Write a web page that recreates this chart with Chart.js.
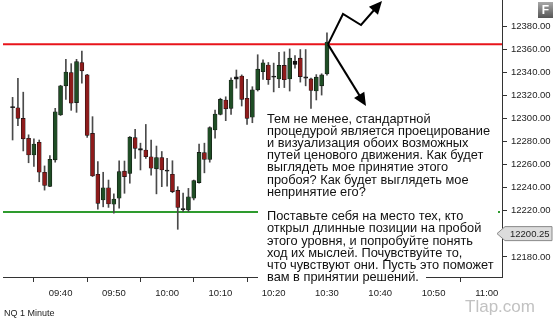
<!DOCTYPE html>
<html><head><meta charset="utf-8">
<script src="https://cdn.jsdelivr.net/npm/chart.js@4"></script>
<style>html,body{margin:0;padding:0;background:#fff;overflow:hidden}canvas{display:block}</style>
</head><body>
<canvas id="c" width="557" height="322"></canvas>
<script>
// ---- data (NQ 1 Minute) ----
const times = ["09:31","09:32","09:33","09:34","09:35","09:36","09:37","09:38","09:39","09:40",
"09:41","09:42","09:43","09:44","09:45","09:46","09:47","09:48","09:49","09:50",
"09:51","09:52","09:53","09:54","09:55","09:56","09:57","09:58","09:59","10:00",
"10:01","10:02","10:03","10:04","10:05","10:06","10:07","10:08","10:09","10:10",
"10:11","10:12","10:13","10:14","10:15","10:16","10:17","10:18","10:19","10:20",
"10:21","10:22","10:23","10:24","10:25","10:26","10:27","10:28","10:29","10:30"];
const open = [12310.5,12309.5,12300.25,12283,12268.5,12279.5,12253.5,12241.25,12264.25,12303.25,
12328.5,12340,12314,12348.75,12338,12287.25,12251.75,12229.5,12240,12225.75,
12231,12254.5,12252.5,12283.5,12274,12272.75,12267,12256.5,12266.25,12255.5,
12251.75,12237.75,12222,12220.75,12231,12244.5,12270.5,12264.75,12290.25,12303.75,
12316.25,12309,12336.25,12337,12317.75,12301.25,12325,12340.75,12346.5,12337,
12334.5,12346.25,12334.5,12350,12352.5,12336.25,12334.5,12324,12328.5,12338.75];
const high = [12318.5,12335,12323,12286,12282.5,12281.5,12259,12268,12309,12329,
12351.5,12347.75,12351.5,12358.75,12338.5,12301.75,12262.75,12253.5,12246.75,12234.75,
12263.5,12263.25,12284.5,12290.75,12278.75,12295,12281.5,12276.25,12271.5,12265.5,
12263.5,12241,12235.5,12239.5,12246.75,12278,12278.75,12293,12307.5,12317.75,
12319,12335.5,12342.25,12338,12334.25,12327.75,12355.5,12351,12348.75,12348.25,
12357.5,12358,12360.5,12354.75,12360,12360,12335.25,12338.25,12339,12374.5];
const low = [12281.5,12294,12272,12261.75,12258.5,12245.25,12238,12241,12262.25,12302.75,
12316.75,12307.25,12305.5,12330.75,12283.75,12249.75,12221.5,12223.5,12223,12218,
12222.25,12235.25,12244,12265.5,12255.5,12265.5,12251,12234.75,12241,12241.5,
12235.75,12204,12219.25,12219.25,12229.5,12244,12253,12262.25,12283,12303.25,
12298.25,12303.75,12326.5,12311,12295,12296.5,12324,12334,12329.75,12323.25,
12327,12327,12324,12343.75,12331.75,12328.5,12309,12316.25,12320.5,12337.75];
const close = [12309.5,12300.25,12282.5,12268.5,12278,12253.5,12242,12264.75,12306,12328.5,
12340.5,12313.5,12349.5,12341.5,12285.5,12250.25,12226.5,12240,12226,12230.25,
12254,12249.75,12284,12274.25,12272.75,12267,12257,12266.25,12255.5,12254.5,
12236.75,12223,12221,12232.25,12246.25,12270.75,12264.75,12292.25,12304,12316.75,
12308.5,12333.5,12334.25,12316.75,12300.25,12325,12343,12348.5,12333.75,12336,
12346.25,12333.75,12352.5,12347,12336.5,12335.25,12324.5,12336,12338,12366.5];
const resistance = 12364.5;
const support = 12219;
const supportEnd = "10:30";
const lastPrice = 12200.25;
const xTickLabels = ["09:40","09:50","10:00","10:10","10:20","10:30","10:40","10:50","11:00"];
const yTickValues = [12180,12200,12220,12240,12260,12280,12300,12320,12340,12360,12380];
const noteLines = ["Тем не менее, стандартной","процедурой является проецирование","и визуализация обоих возможных","путей ценового движения. Как будет","выглядеть мое принятие этого","пробоя? Как будет выглядеть мое","непринятие его?","","Поставьте себя на место тех, кто","открыл длинные позиции на пробой","этого уровня, и попробуйте понять","ход их мыслей. Почувствуйте то,","что чувствуют они. Пусть это поможет","вам в принятии решений."];

// ---- helpers ----
const toMin = t => { const [h,m] = t.split(':').map(Number); return (h*60+m) - (9*60+30); };
const fmtMin = v => { const t = 9*60+30+v; const h = Math.floor(t/60), m = t%60; return String(h).padStart(2,'0')+':'+String(m).padStart(2,'0'); };
const xMin = -0.8, xMax = 92.85;
const RED='#8e1b1b', GREEN='#1f4d25', DOJI='#111';
const bodyColor = i => Math.abs(close[i]-open[i]) < 3.5 ? DOJI : (close[i] > open[i] ? GREEN : RED);
const FONT = '"Liberation Sans", Arial, sans-serif';

const overlay = {
  id: 'overlay',
  afterDraw(chart) {
    const {ctx, scales:{x, y}} = chart;
    ctx.save();
    const gy = y.getPixelForValue(support);
    ctx.strokeStyle = '#2e9b2e'; ctx.lineWidth = 2;
    ctx.beginPath(); ctx.moveTo(495, gy); ctx.lineTo(500, gy); ctx.stroke();
    ctx.fillStyle = '#fff';
    ctx.fillRect(258, 109, 240, 162);
    ctx.fillRect(258, 271, 168, 13);
    ctx.fillStyle = '#111'; ctx.font = '12.8px ' + FONT; ctx.textBaseline = 'alphabetic'; ctx.textAlign = 'left';
    noteLines.forEach((l, i) => { if (l) ctx.fillText(l, 267, 122.5 + i * 12.2); });
    const sx = x.getPixelForValue(toMin(times[times.length-1])) + 1;
    const sy = y.getPixelForValue(resistance);
    ctx.strokeStyle = '#000'; ctx.fillStyle = '#000'; ctx.lineWidth = 2; ctx.lineJoin = 'miter';
    const head = (fx, fy, tx, ty) => {
      const a = Math.atan2(ty - fy, tx - fx), L = 13, W = 6;
      const bx = tx - L*Math.cos(a), by = ty - L*Math.sin(a);
      ctx.beginPath(); ctx.moveTo(tx, ty);
      ctx.lineTo(bx + W*Math.sin(a), by - W*Math.cos(a));
      ctx.lineTo(bx - W*Math.sin(a), by + W*Math.cos(a));
      ctx.closePath(); ctx.fill();
      return [bx + 2*Math.cos(a), by + 2*Math.sin(a)];
    };
    let e = head(361, 25, 382, 1);
    ctx.beginPath(); ctx.moveTo(sx, sy); ctx.lineTo(343, 14); ctx.lineTo(361, 25); ctx.lineTo(e[0], e[1]); ctx.stroke();
    e = head(sx, sy, 366, 106);
    ctx.beginPath(); ctx.moveTo(sx, sy); ctx.lineTo(e[0], e[1]); ctx.stroke();
    const g = ctx.createLinearGradient(0, 2, 0, 18);
    g.addColorStop(0, '#a8a8a8'); g.addColorStop(1, '#555');
    ctx.fillStyle = g; ctx.fillRect(538, 2, 15, 16);
    ctx.fillStyle = '#fff'; ctx.font = 'bold 12px ' + FONT; ctx.textAlign = 'center'; ctx.textBaseline = 'middle';
    ctx.fillText('F', 545.5, 10.5);
    const py = y.getPixelForValue(lastPrice);
    ctx.beginPath(); ctx.moveTo(497, py); ctx.lineTo(505, py-7); ctx.lineTo(552, py-7); ctx.lineTo(552, py+7); ctx.lineTo(505, py+7); ctx.closePath();
    ctx.fillStyle = '#dcdcdc'; ctx.fill(); ctx.strokeStyle = '#8a8a8a'; ctx.lineWidth = 1; ctx.stroke();
    ctx.fillStyle = '#222'; ctx.font = '9.5px ' + FONT; ctx.textAlign = 'left'; ctx.textBaseline = 'middle';
    ctx.fillText(lastPrice.toFixed(2), 510, py + 0.5);
    ctx.fillStyle = '#c2c2c2'; ctx.font = '17px ' + FONT; ctx.textAlign = 'center'; ctx.textBaseline = 'alphabetic';
    ctx.fillText('Tlap.com', 500, 312);
    ctx.fillStyle = '#222'; ctx.font = '9px ' + FONT; ctx.textAlign = 'left';
    ctx.fillText('NQ 1 Minute', 4, 316);
    ctx.restore();
  }
};

new Chart(document.getElementById('c'), {
  type: 'bar',
  data: {
    datasets: [
      { type: 'line', data: [{x: xMin, y: resistance}, {x: xMax, y: resistance}], borderColor: '#e8141b', borderWidth: 2, pointRadius: 0, order: 5 },
      { type: 'line', data: [{x: xMin, y: support}, {x: toMin(supportEnd), y: support}], borderColor: '#2e9b2e', borderWidth: 2, pointRadius: 0, order: 5 },
      { data: times.map((t, i) => ({x: toMin(t), y: [low[i], high[i]]})), backgroundColor: '#4a4a4a', barThickness: 1, grouped: false, order: 2 },
      { data: times.map((t, i) => ({x: toMin(t), y: [open[i], close[i]]})), backgroundColor: times.map((t, i) => bodyColor(i)),
        borderColor: '#111', borderWidth: 0.6, borderSkipped: false, barThickness: 4, grouped: false, order: 1 }
    ]
  },
  options: {
    responsive: false, animation: false,
    layout: { padding: { left: 3, top: 0, right: 0, bottom: 0 } },
    plugins: { legend: { display: false }, tooltip: { enabled: false } },
    scales: {
      x: {
        type: 'linear', min: xMin, max: xMax, offset: false,
        afterBuildTicks: s => { s.ticks = xTickLabels.map(l => ({value: toMin(l)})); },
        afterFit: s => { s.height = 45; s.paddingLeft = 0; s.paddingRight = 0; },
        ticks: { callback: v => fmtMin(v), font: { family: FONT, size: 9.5 }, color: '#222', padding: 6, maxRotation: 0, autoSkip: false },
        grid: { drawOnChartArea: false, drawTicks: true, tickLength: 5, tickColor: '#333' },
        border: { display: true, color: '#333', width: 1 }
      },
      y: {
        position: 'right', min: 12162.6, max: 12403,
        afterBuildTicks: s => { s.ticks = yTickValues.map(v => ({value: v})); },
        afterFit: s => { s.width = 55; s.paddingTop = 0; s.paddingBottom = 0; },
        ticks: { callback: v => Number(v).toFixed(2), font: { family: FONT, size: 9.5 }, color: '#222', padding: 4 },
        grid: { drawOnChartArea: false, drawTicks: true, tickLength: 5, tickColor: '#333' },
        border: { display: true, color: '#333', width: 1 }
      }
    }
  },
  plugins: [overlay]
});
</script>
</body></html>
